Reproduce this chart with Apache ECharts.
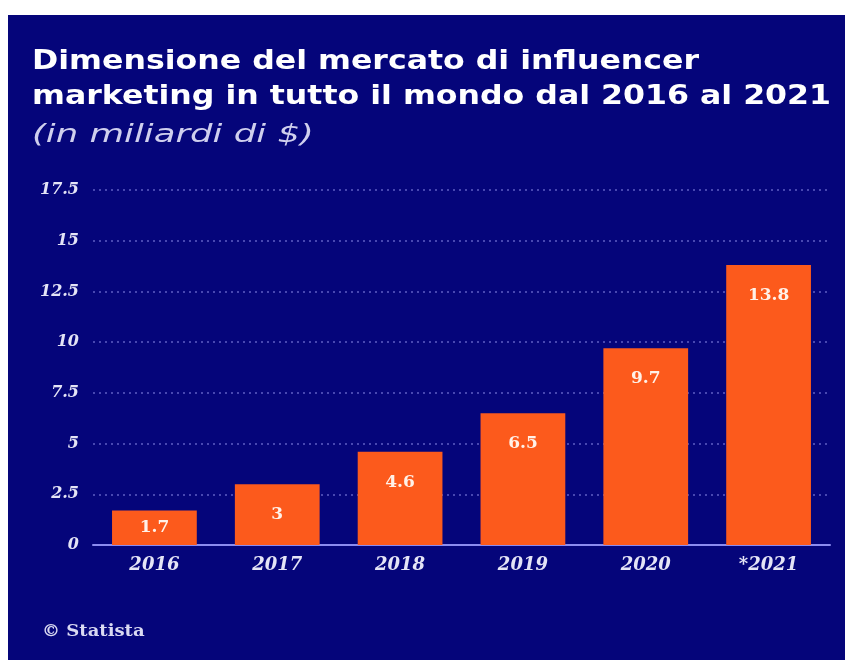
<!DOCTYPE html>
<html>
<head>
<meta charset="utf-8">
<script src="https://cdn.jsdelivr.net/npm/echarts@6/dist/echarts.min.js"></script>
<style>
  html, body { margin: 0; padding: 0; background: #ffffff; width: 845px; height: 660px; overflow: hidden; }
  #chart { position: absolute; left: 8px; top: 15px; width: 837px; height: 645px; }
</style>
</head>
<body>
<div id="chart"></div>
<script>
// Influencer marketing market size, billions of USD
const categories = ['2016', '2017', '2018', '2019', '2020', '*2021'];
const values = [1.7, 3, 4.6, 6.5, 9.7, 13.8];
const yTicks = [0, 2.5, 5, 7.5, 10, 12.5, 15, 17.5];

const titleLines = [
  'Dimensione del mercato di influencer',
  'marketing in tutto il mondo dal 2016 al 2021'
];
const subtitleText = '(in miliardi di $)';
const sourceText = '© Statista';

const NAVY = '#05057a';
const ORANGE = '#fc5a1c';
const SANS = '"DejaVu Sans", sans-serif';
const SERIF = '"DejaVu Serif", "Liberation Serif", serif';

// Header and footer texts, drawn in a slightly extended (wide) face
function wideText(text, x, y, font, fill, stretch) {
  return {
    type: 'text',
    x: x,
    y: y,
    scaleX: stretch,
    style: {
      text: text,
      font: font,
      fill: fill,
      textAlign: 'left',
      textVerticalAlign: 'middle'
    },
    silent: true
  };
}

const chart = echarts.init(document.getElementById('chart'));

chart.setOption({
  backgroundColor: NAVY,
  animation: false,
  graphic: [
    wideText(titleLines[0], 24, 46.5, 'bold 27px ' + SANS, '#ffffff', 1.17),
    wideText(titleLines[1], 24, 81.5, 'bold 27px ' + SANS, '#ffffff', 1.17),
    wideText(subtitleText, 24, 120, 'italic 25px ' + SANS, '#cfcfee', 1.42),
    wideText(sourceText, 34, 617, 'bold 17px ' + SERIF, '#d9d9f2', 1.06)
  ],
  grid: { left: 85, right: 15, top: 175, bottom: 115 },
  xAxis: {
    type: 'category',
    data: categories,
    axisTick: { show: false },
    axisLine: { lineStyle: { color: '#8c8cf0', width: 2 } },
    axisLabel: {
      color: '#e4e4f6',
      fontFamily: SERIF,
      fontStyle: 'italic',
      fontWeight: 'bold',
      fontSize: 18,
      margin: 11
    }
  },
  yAxis: {
    type: 'value',
    min: yTicks[0],
    max: yTicks[yTicks.length - 1],
    interval: 2.5,
    axisLine: { show: false },
    axisTick: { show: false },
    axisLabel: {
      color: '#e4e4f6',
      fontFamily: SERIF,
      fontStyle: 'italic',
      fontWeight: 'bold',
      fontSize: 16,
      margin: 14
    },
    splitLine: {
      lineStyle: { color: '#5f5fc4', type: [2, 4], width: 1.5 }
    }
  },
  series: [{
    type: 'bar',
    barWidth: '69%',
    data: values.map(v => ({
      value: v,
      // short bars get their value centred, taller ones near the top
      label: v < 2.5 ? { position: 'inside' } : undefined
    })),
    itemStyle: { color: ORANGE },
    label: {
      show: true,
      position: 'insideTop',
      distance: 22,
      color: '#fff1e8',
      fontFamily: SERIF,
      fontWeight: 'bold',
      fontSize: 17
    }
  }]
});
</script>
</body>
</html>
